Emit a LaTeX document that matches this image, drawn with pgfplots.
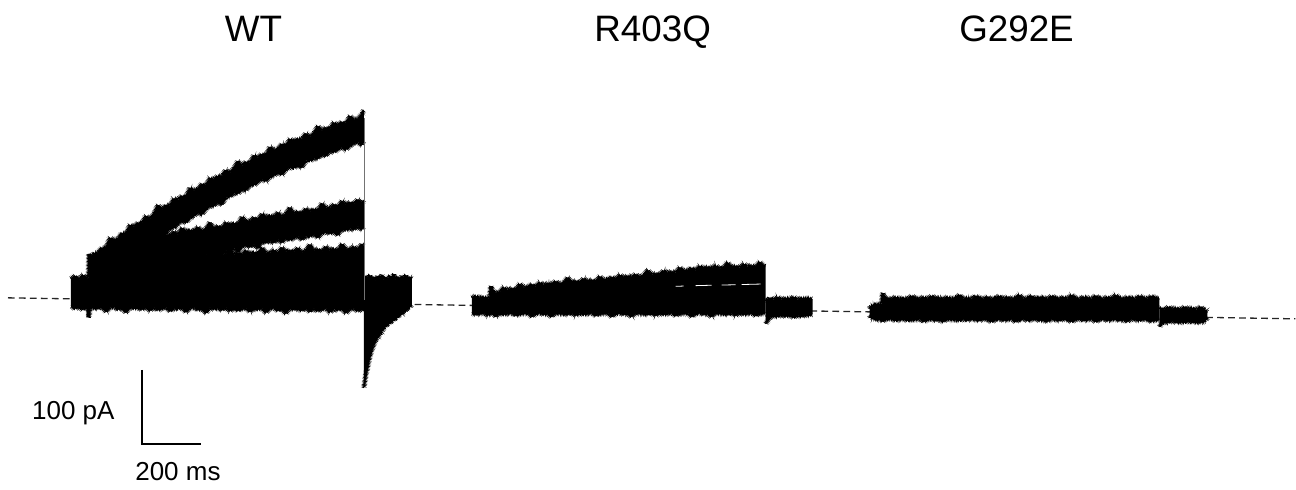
\documentclass[border=0pt]{standalone}
\usepackage{fontspec}
\setmainfont{Liberation Sans}
\usepackage{pgfplots}
\usepackage{pgfplotstable}
\pgfplotsset{compat=1.18}
\usepgfplotslibrary{fillbetween}
\usetikzlibrary{decorations.pathmorphing}

% WT: largest trace (x, top edge, bottom edge; y in picture units, downward)
\pgfplotstableread{
x t b
90 262 284
94 253 283
98 253 277
102 248 273
106 248 274
110 238 268
114 240 266
118 239 262
122 233 264
126 234 257
130 225 253
134 227 254
138 223 249
142 223 252
146 216 243
150 219 243
154 214 239
158 205 238
162 210 233
166 205 234
170 206 228
174 198.5 228.5
178 200 224
182 196 221
186 197 223
190 188 218
194 190.5 216.5
198 189 212
202 184 215
206 186 209
210 178 206
214 179.5 206.5
218 176 202
222 176 205
226 170 197
230 173 197
234 168.5 193.5
238 161 194
242 166 189
246 162 191
250 163 185
254 155.5 185.5
258 158 182
262 154 179
266 155.5 181.5
270 147 177
274 150 176
278 149 172
282 144 175
286 146.5 169.5
290 139 167
294 141.5 168.5
298 139 165
302 139 168
306 133.5 160.5
310 137 161
314 133.5 158.5
318 126 159
322 131 154
326 127.5 156.5
330 129 151
334 122.5 152.5
338 125.5 149.5
342 122 147
346 124 150
350 116 146
354 119.5 143.5
358 119 142
362 114.5 145.5
364 110 140
}\wtA

% WT: second trace
\pgfplotstableread{
x t b
90 261 287
94 255 282
98 257 285
102 248.5 276.5
106 250.5 276.5
110 248 274
114 248.5 274.5
118 243 270
122 247 273
126 243.5 267.5
130 236.5 269.5
134 242 266
138 239 264
142 241.5 267.5
146 235.5 263.5
150 239 264
154 236 261
158 238.5 265.5
162 231 261
166 235 259
170 235.5 261.5
174 231.5 258.5
178 235 263
182 228 256
186 231.5 257.5
190 230 256
194 231.5 257.5
198 227 254
202 231.5 257.5
206 229 253
210 222.5 255.5
214 229 253
218 226 251
222 228.5 254.5
226 222.5 250.5
230 225.5 250.5
234 223 248
238 225 252
242 217 247
246 221 245
250 221.5 247.5
254 217.5 244.5
258 220.5 248.5
262 214 242
266 217 243
270 215.5 241.5
274 217 243
278 212.5 239.5
282 217 243
286 214 238
290 207.5 240.5
294 214 238
298 211.5 236.5
302 214 240
306 208.5 236.5
310 212 237
314 209 234
318 211 238
322 203.5 233.5
326 208 232
330 208 234
334 204.5 231.5
338 207.5 235.5
342 201 229
346 204.5 230.5
350 202.5 228.5
354 204 230
358 199.5 226.5
362 204 230
364 200 226
}\wtB

% WT: baseline and small traces
\pgfplotstableread{
x t b
71 279 306
75 276 309
79 280 307
83 275 310
87 279 307
88.5 278 308
89 254 318
90 262 308
94 259 308
98 262 309
102 255 307
106 259.5 312
110 260 308
114 257 307
118 261 310
122 255 308
126 258.5 313
130 257.5 307
134 259 309
138 255 308
142 260 310
146 257.5 307
150 251.5 311
154 258.5 307.5
158 256 310.5
162 259 308.5
166 254 307.5
170 257.5 311.5
174 255.5 308.5
178 258.5 309.5
182 251 307.5
186 256 312.5
190 256.5 308.5
194 253.5 307.5
198 257.5 310.5
202 251 308.5
206 255 313.5
210 254 307.5
214 255.5 309.5
218 251.5 308.5
222 256.5 310.5
226 254 307.5
230 248 311.5
234 255 308
238 252.5 311
242 255.5 309
246 250.5 308
250 254 312
254 252 309
258 254.5 310
262 247.5 308
266 252.5 313
270 253 309
274 250 308
278 254 311
282 247.5 309
286 251.5 314
290 250.5 308
294 252 310
298 248 309
302 253 311
306 250.5 308
310 244.5 312
314 251 308.5
318 249 311.5
322 252 309.5
326 246.5 308.5
330 250.5 312.5
334 248.5 309.5
338 251 310.5
342 244 308.5
346 249 313.5
350 249.5 309.5
354 246.5 308.5
358 250.5 311.5
362 244 309.5
364 247 309
}\wtC

% WT: tail currents
\pgfplotstableread{
x t b
364 278 388
365 280 382
366 276 375
368 279 366
370 275 357
372 280 350
374 277 345
376 281 340
378 276 338
380 279 334
382 275 332
384 280 328
386 277 327
388 281 324
390 276 324
392 279 321
394 274 321
396 280 318
398 277 318
400 281 314
402 276 315
404 279 311
406 275 312
408 280 308
410 277 308
412 279 304
}\wtD

% R403Q: step
\pgfplotstableread{
x t b
472 298 313
476 296 315
480 298 314
484 297 313
488 299 316
490 297 314
491 286 315
493 291 313
496 293 317
500 292 313
504 287.5 315
508 290 314
512 288.5 313
516 289.7 316
520 284 314
524 287.5 314
528 287 313
532 284.5 317
536 286.9 314
540 282.5 313
544 285 315
548 283.5 314
552 284 317
556 281.5 313
560 284 314
564 283 314
568 277.5 315
572 282.5 313
576 281 316
580 282.8 313
584 278.5 315
588 281.5 314
592 280 313
596 281.7 316
600 276.5 314
604 280 314
608 279.5 313
612 277 317
616 279.5 314
620 275 313
624 277.5 315
628 276 314
632 277 317
636 274.5 313
640 277 314
644 275.5 314
648 270 315
652 275 313
656 273.5 316
660 274.9 313
664 270.5 315
668 273 314
672 271.5 313
676 273.1 316
680 267.5 314
684 271 314
688 270.5 313
692 268 317
696 270.7 314
700 266 313
704 268.5 315
708 267 314
712 268 317
716 265.5 313
720 268.6 314
724 267.5 314
728 262.5 315
732 267.5 313
736 266 316
740 268 313
744 264 315
748 266.5 314
752 265.5 313
756 267.4 316
760 262 314
764 266 314
766 267 313
}\rqA

% R403Q: tail
\pgfplotstableread{
x t b
766 299 324
768 301 321
770 298 318
774 300 316
778 297 317
782 300 315
786 298 317
790 299 315
794 297 318
798 300 315
802 298 317
806 299 315
810 298 316
813 300 314
}\rqB

% G292E: step
\pgfplotstableread{
x t b
870 309 315
871 306 318
873 305 319
876 305 319
880 304 320
882 304 320
883 293 322
885 297 320
888 299 319
892 299 319
896 297 321
900 299 320
904 298 319
908 299 321
912 296 320
916 298 320
920 299 319
924 297 322
928 299 320
932 296 319
936 298 321
940 298 320
944 299 322
948 297 319
952 299 320
956 298 320
960 295 321
964 299 319
968 298 321
972 299 319
976 296 320
980 298 321
984 299 319
988 297 320
992 299 322
996 298 320
1000 296 319
1004 299 321
1008 297 320
1012 299 319
1016 298 322
1020 295 320
1024 299 319
1028 298 321
1032 296 320
1036 299 319
1040 297 321
1044 298 320
1048 299 322
1052 296 319
1056 298 320
1060 299 321
1064 297 319
1068 299 320
1072 295 322
1076 298 320
1080 299 319
1084 297 321
1088 298 320
1092 299 319
1096 296 322
1100 298 320
1104 299 319
1108 297 321
1112 299 320
1116 295 319
1120 298 321
1124 299 320
1128 297 322
1132 298 319
1136 299 320
1140 296 321
1144 298 319
1148 299 320
1152 296 322
1156 298 320
1160 299 320
}\geA

% G292E: tail
\pgfplotstableread{
x t b
1160 309 327
1162 308 324
1165 310 322
1169 307 323
1173 309 321
1177 308 323
1181 310 322
1185 307 323
1189 309 321
1193 308 323
1197 310 322
1201 307 323
1204 309 322
1206 310 321
1208 313 318
}\geB

\tikzset{fuzz/.style={black, line width=0.35pt, decorate,
  decoration={zigzag, segment length=0.7pt, amplitude=0.75pt}}}

\newcommand\band[2]{%
  \addplot[draw=none, name path=#2a] table[x=x,y=t]{#1};
  \addplot[draw=none, name path=#2b] table[x=x,y=b]{#1};
  \addplot[black] fill between[of=#2a and #2b];
  \addplot[fuzz] table[x=x,y=t]{#1};
  \addplot[fuzz] table[x=x,y=b]{#1};
}

\begin{document}
\begin{tikzpicture}
\begin{axis}[
  set layers,
  width=648pt, height=245pt, scale only axis,
  xmin=0, xmax=1296, ymin=0, ymax=490,
  y dir=reverse, hide axis, clip=false]
\path (axis cs:0,0) rectangle (axis cs:1296,490);
% baseline
\addplot[black!85, line width=0.65pt, dash pattern=on 3.3pt off 2.2pt, on layer=axis background] coordinates {(8,298) (1296,319)};
% WT
\band{\wtC}{wc}
\band{\wtB}{wb}
\band{\wtA}{wa}
\band{\wtD}{wd}
\addplot[black!55, line width=0.5pt] coordinates {(364.5,118) (364.5,300)};
% R403Q
\band{\rqA}{ra}
\band{\rqB}{rb}
\addplot[white, line width=0.4pt] coordinates {(676,286.5) (684,286.2)};
\addplot[white, line width=0.4pt] coordinates {(696,285.8) (712,285.4)};
\addplot[white, line width=0.4pt] coordinates {(722,285.2) (736,284.9)};
\addplot[white, line width=0.4pt] coordinates {(742,284.7) (761,284.2)};
% G292E
\band{\geA}{ga}
\band{\geB}{gb}
% scale bar
\addplot[black, line width=1pt] coordinates {(142,370) (142,444) (201,444)};
% labels
\node[font=\fontsize{18.4}{22}\selectfont, anchor=base] at (axis cs:253.5,42) {WT};
\node[font=\fontsize{18.4}{22}\selectfont, anchor=base] at (axis cs:653,42) {R403Q};
\node[font=\fontsize{18.4}{22}\selectfont, anchor=base] at (axis cs:1017,42) {G292E};
\node[font=\fontsize{13}{15}\selectfont, anchor=base east, inner sep=0pt] at (axis cs:115,420) {100 pA};
\node[font=\fontsize{13}{15}\selectfont, anchor=base west, inner sep=0pt] at (axis cs:135,481) {200 ms};
\end{axis}
\end{tikzpicture}
\end{document}
